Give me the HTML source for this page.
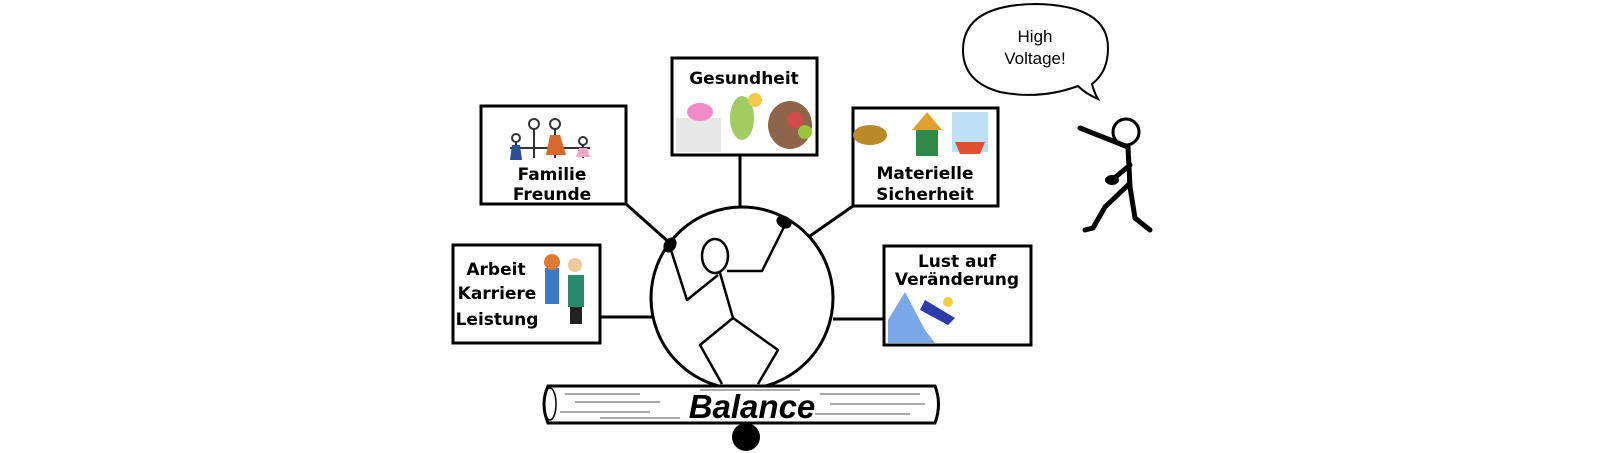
<!DOCTYPE html>
<html><head><meta charset="utf-8"><style>
html,body{margin:0;padding:0;background:#fff;}
svg{display:block;}
text{font-family:"DejaVu Sans","Liberation Sans",sans-serif;font-weight:bold;fill:#000;}
text.n{font-family:"Liberation Sans",sans-serif;font-weight:normal;}
text.b{font-family:"Liberation Sans",sans-serif;font-weight:bold;font-style:italic;}
</style></head><body>
<svg width="1600" height="453" viewBox="0 0 1600 453" xmlns="http://www.w3.org/2000/svg">
<g stroke="#000" stroke-width="3" fill="none">
<line x1="740" y1="155" x2="740" y2="208"/>
<line x1="626" y1="204" x2="672" y2="245"/>
<line x1="853" y1="206" x2="810" y2="236"/>
<line x1="600" y1="317" x2="652" y2="317"/>
<line x1="833" y1="319" x2="884" y2="319"/>
<rect x="672" y="58" width="145" height="97" fill="#fff"/>
<rect x="481" y="106" width="145" height="98" fill="#fff"/>
<rect x="853" y="108" width="145" height="98" fill="#fff"/>
<rect x="453" y="245" width="147" height="98" fill="#fff"/>
<rect x="884" y="246" width="147" height="99" fill="#fff"/>
<circle cx="742" cy="298" r="91" fill="#fff"/>
</g>
<g stroke="#000" stroke-width="2.5" fill="none" stroke-linejoin="round">
<ellipse cx="715" cy="256" rx="13" ry="17" fill="#fff"/>
<line x1="720" y1="273" x2="733" y2="318"/>
<polyline points="727,271 762,271 785,225"/>
<polyline points="718,275 687,300 670,247"/>
<polyline points="733,318 700,345 722,384"/>
<polyline points="733,318 778,350 758,384"/>
</g>
<ellipse cx="784" cy="222" rx="8" ry="6" fill="#000" transform="rotate(30 784 222)"/>
<ellipse cx="670" cy="245" rx="6" ry="8" fill="#000" transform="rotate(30 670 245)"/>
<path d="M548,386 L935,386 Q942,404 935,423 L548,423 Q540,404 548,386 Z" fill="#fff" stroke="#000" stroke-width="3"/>
<ellipse cx="550" cy="404" rx="6" ry="16" fill="none" stroke="#000" stroke-width="1.5"/>
<g stroke="#555" stroke-width="1">
<line x1="565" y1="394" x2="640" y2="394"/><line x1="575" y1="402" x2="660" y2="402"/>
<line x1="560" y1="412" x2="650" y2="412"/><line x1="600" y1="418" x2="680" y2="418"/>
<line x1="820" y1="394" x2="920" y2="394"/><line x1="830" y1="404" x2="925" y2="404"/>
<line x1="815" y1="414" x2="910" y2="414"/><line x1="700" y1="390" x2="800" y2="390"/>
</g>
<text class="b" x="752" y="418" font-size="33" text-anchor="middle">Balance</text>
<circle cx="746" cy="437" r="14" fill="#000"/>
<g font-size="17" text-anchor="middle">
<text x="744" y="84">Gesundheit</text>
<text x="552" y="180">Familie</text>
<text x="552" y="200">Freunde</text>
<text x="925" y="179">Materielle</text>
<text x="925" y="200">Sicherheit</text>
<text x="496" y="275">Arbeit</text>
<text x="497" y="299">Karriere</text>
<text x="497" y="325">Leistung</text>
<text x="957" y="267">Lust auf</text>
<text x="957" y="285">Veränderung</text>
</g>
<g>
<rect x="676" y="118" width="45" height="34" fill="#e8e8e8"/>
<ellipse cx="700" cy="112" rx="13" ry="9" fill="#f08ac8"/>
<ellipse cx="742" cy="118" rx="12" ry="22" fill="#8bbf3a" opacity="0.8"/>
<circle cx="755" cy="100" r="7" fill="#f2c94c"/>
<ellipse cx="790" cy="125" rx="22" ry="24" fill="#7a4a2a" opacity="0.85"/>
<circle cx="795" cy="120" r="8" fill="#d04a4a"/>
<circle cx="805" cy="132" r="7" fill="#9ac43c"/>
<g stroke="#333" stroke-width="2" fill="none">
<circle cx="516" cy="138" r="4"/><circle cx="534" cy="124" r="5"/><circle cx="555" cy="124" r="5"/><circle cx="583" cy="141" r="4"/>
<line x1="516" y1="142" x2="516" y2="158"/><line x1="534" y1="129" x2="534" y2="158"/><line x1="555" y1="129" x2="555" y2="158"/><line x1="583" y1="145" x2="583" y2="158"/>
<line x1="510" y1="148" x2="590" y2="148"/>
</g>
<path d="M512,145 L520,145 L522,160 L510,160 Z" fill="#2a4f9a"/>
<path d="M550,135 L560,135 L566,155 L546,155 Z" fill="#d9692a"/>
<path d="M579,148 L587,148 L590,157 L576,157 Z" fill="#f2a6c8"/>
<ellipse cx="870" cy="135" rx="17" ry="10" fill="#b9892a"/>
<rect x="916" y="128" width="22" height="28" fill="#2f8a4a"/>
<path d="M912,130 L927,112 L942,130 Z" fill="#e0a030"/>
<rect x="952" y="112" width="36" height="40" fill="#bfe0f5"/>
<path d="M955,142 L985,142 L980,154 L960,154 Z" fill="#e05030"/>
<rect x="545" y="268" width="14" height="36" fill="#3a7ac8"/>
<circle cx="552" cy="262" r="8" fill="#e07a30"/>
<rect x="568" y="275" width="16" height="32" fill="#2a8a70"/>
<circle cx="575" cy="265" r="7" fill="#f0c8a0"/>
<rect x="570" y="307" width="12" height="17" fill="#222"/>
<path d="M888,343 L888,320 L905,292 L925,330 L935,343 Z" fill="#7aa8e8"/>
<path d="M925,300 L955,318 L948,325 L920,310 Z" fill="#2a3aa8"/>
<circle cx="948" cy="302" r="5" fill="#f0d040"/>
</g>
<path d="M1078,86 Q1040,100 1000,92 Q963,82 963,50 Q963,5 1035,4 Q1108,5 1108,48 Q1108,72 1092,84 Q1094,92 1098,99 Q1086,94 1078,86 Z" fill="#fff" stroke="#000" stroke-width="2"/>
<text class="n" x="1035" y="42" font-size="17" text-anchor="middle">High</text>
<text class="n" x="1035" y="64" font-size="17" text-anchor="middle">Voltage!</text>
<g stroke="#000" stroke-width="5" fill="none" stroke-linecap="round" stroke-linejoin="round">
<circle cx="1126" cy="132" r="13" stroke-width="3" fill="#fff"/>
<polyline points="1128,147 1080,128"/>
<polyline points="1128,147 1130,187"/>
<polyline points="1130,165 1112,180"/>
<polyline points="1128,185 1105,207 1093,228 1085,230"/>
<polyline points="1130,187 1135,218 1150,230"/>
</g>
<ellipse cx="1112" cy="180" rx="7" ry="5" fill="#000"/>
</svg>
</body></html>
